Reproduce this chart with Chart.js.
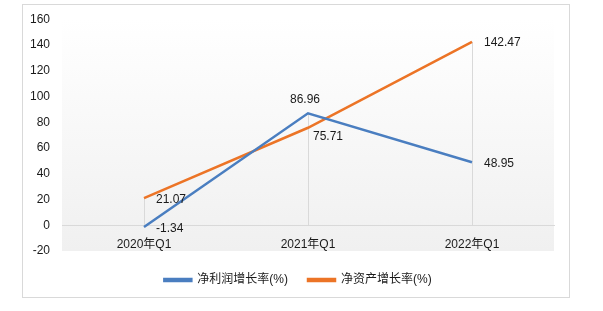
<!DOCTYPE html>
<html>
<head>
<meta charset="utf-8">
<script src="https://cdn.jsdelivr.net/npm/chart.js@4/dist/chart.umd.min.js"></script>
<style>
html,body{margin:0;padding:0;background:#fff;}
#wrap{width:603px;height:311px;position:relative;}
</style>
</head>
<body>
<div id="wrap"><canvas id="c" width="603" height="311"></canvas></div>
<script>
const categories = ['2020年Q1', '2021年Q1', '2022年Q1'];
const netProfitGrowth = [-1.34, 86.96, 48.95];
const netAssetGrowth = [21.07, 75.71, 142.47];
const seriesNames = ['净利润增长率(%)', '净资产增长率(%)'];
const yMin = -20, yMax = 160, yStep = 20;

const FONT = "'Liberation Sans', 'Noto Sans CJK SC', sans-serif";
const TEXT = '#1a1a1a';

// label placement per dataset per point: [dx, dy, align]
const labelPlacement = [
  [[12, 2, 'left'], [-3, -14, 'center'], [12, 1, 'left']],
  [[12, 2, 'left'], [5, 9, 'left'], [12, 1, 'left']]
];

const decor = {
  id: 'decor',
  afterLayout(chart) {
    const lg = chart.legend;
    if (lg) { lg.left += 11; lg.right += 11; lg.top += 3; lg.bottom += 3; }
  },
  beforeDraw(chart) {
    const ctx = chart.ctx, a = chart.chartArea;
    ctx.save();
    ctx.fillStyle = '#fff';
    ctx.fillRect(0, 0, chart.width, chart.height);
    ctx.strokeStyle = '#d9d9d9';
    ctx.lineWidth = 1;
    ctx.strokeRect(22.5, 4.5, 547, 293);
    const g = ctx.createLinearGradient(0, a.top, 0, a.bottom);
    g.addColorStop(0, '#ffffff');
    g.addColorStop(1, '#f0f0f0');
    ctx.fillStyle = g;
    ctx.fillRect(a.left, a.top, a.right - a.left, a.bottom - a.top);
    ctx.restore();
  },
  beforeDatasetsDraw(chart) {
    const ctx = chart.ctx, y = chart.scales.y;
    const zero = y.getPixelForValue(0);
    ctx.save();
    ctx.strokeStyle = '#d9d9d9';
    ctx.lineWidth = 1;
    chart.data.datasets.forEach((ds, di) => {
      chart.getDatasetMeta(di).data.forEach(pt => {
        const x = Math.round(pt.x) + 0.5;
        ctx.beginPath();
        ctx.moveTo(x, pt.y);
        ctx.lineTo(x, zero);
        ctx.stroke();
      });
    });
    ctx.restore();
  },
  afterDatasetsDraw(chart) {
    const ctx = chart.ctx;
    ctx.save();
    ctx.font = '12px ' + FONT;
    ctx.fillStyle = TEXT;
    ctx.textBaseline = 'middle';
    chart.data.datasets.forEach((ds, di) => {
      chart.getDatasetMeta(di).data.forEach((pt, i) => {
        const [dx, dy, al] = labelPlacement[di][i];
        ctx.textAlign = al;
        ctx.fillText(ds.data[i].toFixed(2), pt.x + dx, pt.y + dy);
      });
    });
    ctx.restore();
  }
};

new Chart(document.getElementById('c'), {
  type: 'line',
  data: {
    labels: categories,
    datasets: [
      { label: seriesNames[0], data: netProfitGrowth, borderColor: '#4a7ec0', backgroundColor: '#4a7ec0', borderWidth: 2.5, pointRadius: 0, tension: 0 },
      { label: seriesNames[1], data: netAssetGrowth, borderColor: '#ec7426', backgroundColor: '#ec7426', borderWidth: 2.5, pointRadius: 0, tension: 0 }
    ]
  },
  options: {
    responsive: false,
    animation: false,
    devicePixelRatio: 1,
    layout: { padding: { left: 20, right: 49, top: 19, bottom: 18 } },
    plugins: {
      legend: {
        position: 'bottom',
        labels: {
          font: { family: FONT, size: 12 },
          color: TEXT,
          boxWidth: 27,
          boxHeight: 2,
          padding: 20
        }
      },
      tooltip: { enabled: false }
    },
    scales: {
      x: {
        type: 'category',
        offset: true,
        position: { y: 0 },
        grid: { display: false, drawTicks: false },
        border: { display: true, color: '#d9d9d9', width: 1 },
        ticks: { font: { family: FONT, size: 12 }, color: TEXT, padding: 12, maxRotation: 0 }
      },
      y: {
        min: yMin, max: yMax,
        grid: { display: false, drawTicks: false },
        border: { display: false },
        ticks: { stepSize: yStep, font: { family: FONT, size: 12 }, color: TEXT, padding: 12 },
        afterFit(s) { s.width = 42; }
      }
    }
  },
  plugins: [decor]
});
</script>
</body>
</html>
